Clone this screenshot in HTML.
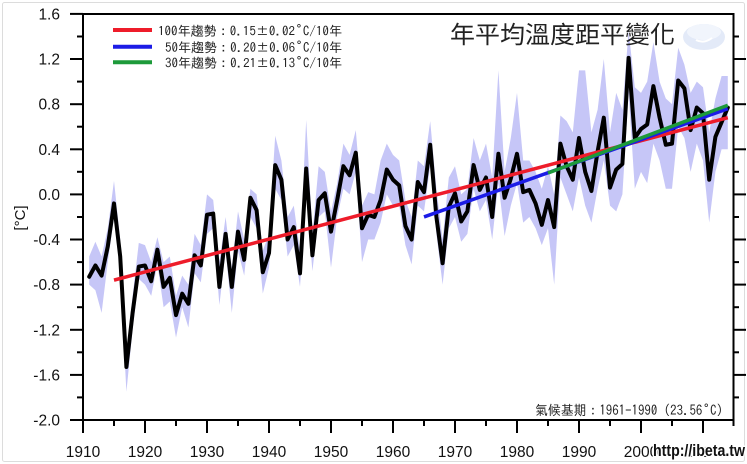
<!DOCTYPE html>
<html><head><meta charset="utf-8"><style>
html,body{margin:0;padding:0;background:#fff;}
svg{display:block;}
</style></head><body>
<svg width="747" height="464" viewBox="0 0 747 464" xmlns="http://www.w3.org/2000/svg">
<rect x="0" y="0" width="747" height="464" fill="#fff"/>
<rect x="2.5" y="2.5" width="742" height="459" rx="2" fill="none" stroke="#dcdcdc" stroke-width="1"/>

<!-- data group: x = year-1910, y = value -->
<g transform="translate(83,194.4) scale(6.2,-112.8)">
<polygon fill="#c6c6f7" stroke="none" points="1,-0.55 2,-0.42 3,-0.55 4,-0.3 5,0.12 6,-0.4 7,-1.4 8,-0.9 9,-0.43 10,-0.45 11,-0.6 12,-0.38 13,-0.6 14,-0.55 15,-0.9 16,-0.72 17,-0.8 18,-0.35 19,-0.45 20,0.0 21,-0.05 22,-0.6 23,-0.2 24,-0.65 25,-0.15 26,-0.4 27,0.05 28,0.0 29,-0.5 30,-0.35 31,0.52 32,0.3 33,-0.2 34,-0.1 35,-0.5 36,0.66 37,-0.35 38,0.25 39,0.2 40,-0.15 41,0.1 42,0.45 43,0.35 44,0.57 45,-0.1 46,0.02 47,0.0 48,0.3 49,0.45 50,0.35 51,0.3 52,-0.05 53,-0.2 54,0.3 55,0.25 56,0.65 57,0.05 58,-0.4 59,0.15 60,0.25 61,0.0 62,0.05 63,0.5 64,0.3 65,0.45 66,0.15 67,1.1 68,0.2 69,0.5 70,0.9 71,0.3 72,0.3 73,0.2 74,0.05 75,0.25 76,0.0 77,0.7 78,0.65 79,0.55 80,1.1 81,1.1 82,0.55 83,0.75 84,1.2 85,0.55 86,0.9 87,0.75 88,1.45 89,0.95 90,0.9 91,1.0 92,1.35 93,1.0 94,0.85 95,0.8 96,1.3 97,1.15 98,0.9 99,1.0 100,0.95 101,0.55 102,0.85 103,1.05 104,1.05 104,0.4 103,0.4 102,0.2 101,-0.25 100,0.3 99,0.45 98,0.2 97,0.5 96,0.6 95,0.05 94,0.05 93,0.3 92,0.45 91,0.1 90,0.2 89,0.05 88,0.9 87,0.0 86,-0.15 85,-0.1 84,0.3 83,0.05 82,-0.25 81,-0.1 80,0.15 79,-0.15 78,0.0 77,0.15 76,-0.8 75,-0.3 74,-0.45 73,-0.3 72,-0.2 71,-0.25 70,0.1 69,-0.1 68,-0.37 67,0.1 66,-0.4 65,-0.05 64,-0.15 63,0.05 62,-0.35 61,-0.42 60,-0.2 59,-0.3 58,-0.8 57,-0.35 56,0.25 55,-0.15 54,-0.1 53,-0.62 52,-0.45 51,-0.1 50,-0.1 49,0.0 48,-0.25 47,-0.4 46,-0.4 45,-0.6 44,0.2 43,0.0 42,0.05 41,-0.2 40,-0.65 39,-0.15 38,-0.2 37,-0.68 36,0.0 35,-0.82 34,-0.45 33,-0.55 32,-0.05 31,0.05 30,-0.65 29,-0.88 28,-0.3 27,-0.2 26,-0.72 25,-0.5 24,-1.05 23,-0.5 22,-0.98 21,-0.3 20,-0.35 19,-0.78 18,-0.7 17,-1.18 16,-1.0 15,-1.27 14,-0.95 13,-1.0 12,-0.62 11,-0.9 10,-0.8 9,-0.75 8,-1.2 7,-1.75 6,-0.7 5,-0.2 4,-0.6 3,-1.05 2,-0.85 1,-0.80"/>
<polyline fill="none" stroke="#000" stroke-width="4" stroke-linejoin="round" stroke-linecap="round" vector-effect="non-scaling-stroke" points="1,-0.73 2,-0.63 3,-0.72 4,-0.46 5,-0.08 6,-0.55 7,-1.53 8,-1.05 9,-0.64 10,-0.63 11,-0.77 12,-0.49 13,-0.82 14,-0.74 15,-1.07 16,-0.88 17,-0.97 18,-0.54 19,-0.63 20,-0.18 21,-0.17 22,-0.82 23,-0.35 24,-0.82 25,-0.33 26,-0.58 27,-0.03 28,-0.14 29,-0.69 30,-0.52 31,0.26 32,0.13 33,-0.40 34,-0.29 35,-0.70 36,0.23 37,-0.54 38,-0.05 39,0.01 40,-0.33 41,-0.05 42,0.25 43,0.17 44,0.37 45,-0.30 46,-0.18 47,-0.20 48,-0.05 49,0.22 50,0.13 51,0.08 52,-0.28 53,-0.40 54,0.11 55,0.02 56,0.44 57,-0.20 58,-0.61 59,-0.11 60,0.01 61,-0.24 62,-0.15 63,0.26 64,0.04 65,0.15 66,-0.20 67,0.36 68,-0.03 69,0.14 70,0.36 71,0.02 72,0.04 73,-0.08 74,-0.27 75,-0.05 76,-0.29 77,0.45 78,0.25 79,0.13 80,0.50 81,0.20 82,0.03 83,0.38 84,0.68 85,0.06 86,0.22 87,0.27 88,1.21 89,0.50 90,0.58 91,0.62 92,0.96 93,0.68 94,0.44 95,0.45 96,1.01 97,0.94 98,0.57 99,0.77 100,0.72 101,0.13 102,0.51 103,0.64 104,0.77"/>
<line x1="5" y1="-0.76" x2="104" y2="0.68" stroke="#ee1c2a" stroke-width="3.5" vector-effect="non-scaling-stroke"/>
<line x1="55" y1="-0.20" x2="104" y2="0.76" stroke="#1c1ce6" stroke-width="3.5" vector-effect="non-scaling-stroke"/>
<line x1="75" y1="0.19" x2="104" y2="0.79" stroke="#1d9a3a" stroke-width="3.5" vector-effect="non-scaling-stroke"/>
</g>

<!-- axes frame -->
<rect x="83" y="14" width="650.5" height="406" fill="none" stroke="#000" stroke-width="2"/>

<!-- left ticks -->
<g stroke="#000" stroke-width="2">
<line x1="70" y1="13.9" x2="83" y2="13.9"/><line x1="70" y1="59" x2="83" y2="59"/><line x1="70" y1="104.2" x2="83" y2="104.2"/><line x1="70" y1="149.3" x2="83" y2="149.3"/><line x1="70" y1="194.4" x2="83" y2="194.4"/><line x1="70" y1="239.5" x2="83" y2="239.5"/><line x1="70" y1="284.6" x2="83" y2="284.6"/><line x1="70" y1="329.8" x2="83" y2="329.8"/><line x1="70" y1="374.9" x2="83" y2="374.9"/><line x1="70" y1="420" x2="83" y2="420"/>
<line x1="77" y1="36.5" x2="83" y2="36.5"/><line x1="77" y1="81.6" x2="83" y2="81.6"/><line x1="77" y1="126.7" x2="83" y2="126.7"/><line x1="77" y1="171.8" x2="83" y2="171.8"/><line x1="77" y1="217" x2="83" y2="217"/><line x1="77" y1="262.1" x2="83" y2="262.1"/><line x1="77" y1="307.2" x2="83" y2="307.2"/><line x1="77" y1="352.3" x2="83" y2="352.3"/><line x1="77" y1="397.4" x2="83" y2="397.4"/>
<!-- right ticks -->
<line x1="733" y1="59" x2="746" y2="59"/><line x1="733" y1="104.2" x2="746" y2="104.2"/><line x1="733" y1="149.3" x2="746" y2="149.3"/><line x1="733" y1="194.4" x2="746" y2="194.4"/><line x1="733" y1="239.5" x2="746" y2="239.5"/><line x1="733" y1="284.6" x2="746" y2="284.6"/><line x1="733" y1="329.8" x2="746" y2="329.8"/><line x1="733" y1="374.9" x2="746" y2="374.9"/>
<line x1="733" y1="36.5" x2="739" y2="36.5"/><line x1="733" y1="81.6" x2="739" y2="81.6"/><line x1="733" y1="126.7" x2="739" y2="126.7"/><line x1="733" y1="171.8" x2="739" y2="171.8"/><line x1="733" y1="217" x2="739" y2="217"/><line x1="733" y1="262.1" x2="739" y2="262.1"/><line x1="733" y1="307.2" x2="739" y2="307.2"/><line x1="733" y1="352.3" x2="739" y2="352.3"/><line x1="733" y1="397.4" x2="739" y2="397.4"/>
<!-- bottom ticks -->
<line x1="83" y1="420" x2="83" y2="433"/><line x1="145" y1="420" x2="145" y2="433"/><line x1="207" y1="420" x2="207" y2="433"/><line x1="269" y1="420" x2="269" y2="433"/><line x1="331" y1="420" x2="331" y2="433"/><line x1="393" y1="420" x2="393" y2="433"/><line x1="455" y1="420" x2="455" y2="433"/><line x1="517" y1="420" x2="517" y2="433"/><line x1="579" y1="420" x2="579" y2="433"/><line x1="641" y1="420" x2="641" y2="433"/><line x1="703" y1="420" x2="703" y2="433"/>
<line x1="114" y1="420" x2="114" y2="426"/><line x1="176" y1="420" x2="176" y2="426"/><line x1="238" y1="420" x2="238" y2="426"/><line x1="300" y1="420" x2="300" y2="426"/><line x1="362" y1="420" x2="362" y2="426"/><line x1="424" y1="420" x2="424" y2="426"/><line x1="486" y1="420" x2="486" y2="426"/><line x1="548" y1="420" x2="548" y2="426"/><line x1="610" y1="420" x2="610" y2="426"/><line x1="672" y1="420" x2="672" y2="426"/><line x1="733.5" y1="420" x2="733.5" y2="426"/>
</g>

<!-- y labels -->
<g font-family="'Liberation Sans', Arial, sans-serif" font-size="15.5" fill="#111" text-anchor="end">
<text x="60" y="19.4">1.6</text><text x="60" y="64.5">1.2</text><text x="60" y="109.7">0.8</text><text x="60" y="154.8">0.4</text><text x="60" y="199.9">0.0</text><text x="60" y="245">-0.4</text><text x="60" y="290.1">-0.8</text><text x="60" y="335.3">-1.2</text><text x="60" y="380.4">-1.6</text><text x="60" y="425.5">-2.0</text>
</g>
<!-- x labels -->
<g font-family="'Liberation Sans', Arial, sans-serif" font-size="15.5" fill="#111" text-anchor="middle">
<text x="83" y="457">1910</text><text x="145" y="457">1920</text><text x="207" y="457">1930</text><text x="269" y="457">1940</text><text x="331" y="457">1950</text><text x="393" y="457">1960</text><text x="455" y="457">1970</text><text x="517" y="457">1980</text><text x="579" y="457">1990</text><text x="641" y="457">2000</text><text x="703" y="457">2010</text>
</g>
<text transform="translate(25,218) rotate(-90)" text-anchor="middle" font-family="'Liberation Sans', Arial, sans-serif" font-size="15" fill="#111">[°C]</text>

<!-- legend -->
<line x1="113" y1="30" x2="152" y2="30" stroke="#ee1c2a" stroke-width="4"/>
<line x1="113" y1="46.7" x2="152" y2="46.7" stroke="#1c1ce6" stroke-width="4"/>
<line x1="113" y1="62.3" x2="152" y2="62.3" stroke="#1d9a3a" stroke-width="4"/>
<g font-family="'IPAGothic', 'Noto Sans CJK TC', monospace" font-size="13" fill="#222" text-anchor="end">
<text x="342" y="35.5" textLength="184" lengthAdjust="spacingAndGlyphs">100年趨勢：0.15±0.02˚C/10年</text>
<text x="342" y="52" textLength="177" lengthAdjust="spacingAndGlyphs">50年趨勢：0.20±0.06˚C/10年</text>
<text x="342" y="67.5" textLength="177" lengthAdjust="spacingAndGlyphs">30年趨勢：0.21±0.13˚C/10年</text>
</g>

<!-- cloud logo -->
<ellipse cx="704" cy="37" rx="21" ry="13" fill="#e3eaf8"/>
<ellipse cx="704" cy="32" rx="17" ry="8" fill="#f1f5fc"/>
<path d="M696 40 Q704 44 712 38" stroke="#fff" stroke-width="2" fill="none"/>

<!-- title -->
<text x="450" y="43" textLength="225" lengthAdjust="spacingAndGlyphs" font-family="'Noto Sans CJK TC', 'WenQuanYi Zen Hei', sans-serif" font-size="24" fill="#222">年平均溫度距平變化</text>

<!-- baseline note -->
<text x="723" y="415" text-anchor="end" textLength="188" lengthAdjust="spacingAndGlyphs" font-family="'IPAGothic', 'Noto Sans CJK TC', monospace" font-size="13.5" fill="#222">氣候基期：1961-1990 (23.56˚C)</text>

<!-- watermark -->
<text x="653" y="456" textLength="92" lengthAdjust="spacingAndGlyphs" font-family="'Liberation Sans Narrow', 'Liberation Sans', sans-serif" font-weight="bold" font-size="16.5" fill="#111" stroke="#fff" stroke-width="3" paint-order="stroke" stroke-linejoin="round">http://ibeta.tw</text>
</svg>
</body></html>
